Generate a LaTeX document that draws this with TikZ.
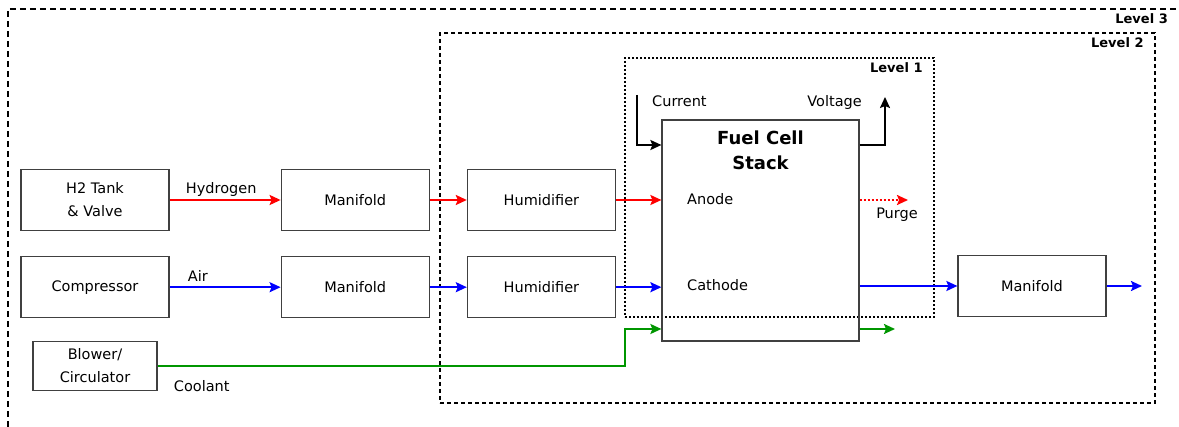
\documentclass[tikz,border=0pt]{standalone}
\usepackage{fontspec}
\setmainfont{DejaVu Sans}
\usepackage{xcolor}
\usepackage{tikz}
\usetikzlibrary{arrows.meta, positioning}

\definecolor{boxline}{RGB}{64,64,64}
\definecolor{coolgreen}{RGB}{0,150,0}

\begin{document}
\begin{tikzpicture}[
  x=1pt, y=-1pt,
  font=\fontsize{14.5}{23}\selectfont,
  node distance=25pt and 37pt,
  block/.style={rectangle, draw=boxline, line width=1.2pt, minimum width=148pt, minimum height=61pt, align=center, inner sep=0pt},
  line/.style={draw, -{Stealth[length=11pt, width=10pt, inset=2pt]}, line width=2pt},
  lvlabel/.style={font=\fontsize{13}{15}\selectfont\bfseries, anchor=north east, inner sep=0pt}
]
  \useasboundingbox (0,0) rectangle (1179,427);

  % level boxes
  \draw [line width=1.5pt, dash pattern=on 6pt off 4pt] (8,427) |- (1179,9);
  \node [lvlabel] (lvl3txt) at (1168,13) {Level 3};
  \node [rectangle, draw, line width=1.5pt, dash pattern=on 4pt off 3pt, minimum width=715pt, minimum height=370pt] (lvl2) at (797.5,218) {};
  \node [lvlabel] (lvl2txt) at ([xshift=-12pt, yshift=-5pt]lvl2.north east) {Level 2};
  \node [rectangle, draw, line width=1.5pt, dash pattern=on 2pt off 2pt, minimum width=309pt, minimum height=259pt] (lvl1) at (779.5,187.5) {};
  \node [lvlabel] (lvl1txt) at ([xshift=-12pt, yshift=-5pt]lvl1.north east) {Level 1};

  % blocks
  \node [block] (tank) at (95,200) {H2 Tank\\\& Valve};
  \node [block] (mani1) [right=111pt of tank] {Manifold};
  \node [block] (hum1) [right=of mani1] {Humidifier};
  \node [block] (comp) [below=of tank] {Compressor};
  \node [block] (mani2) [right=111pt of comp] {Manifold};
  \node [block] (hum2) [right=of mani2] {Humidifier};
  \node [block, minimum width=124pt, minimum height=49pt] (blower) at (95,366) {Blower/\\Circulator};
  \node [block, minimum width=197pt, minimum height=221pt] (stack) at (760.5,230.5) {};
  \node [font=\fontsize{18}{25}\selectfont\bfseries, align=center, anchor=north] (title) at ([yshift=-8pt]stack.north) {Fuel Cell\\Stack};
  \node [anchor=base west, inner sep=0pt] (anode) at (687,205) {Anode};
  \node [anchor=base west, inner sep=0pt] (cathode) at (687,291) {Cathode};
  \node [block] (mani3) at (1032,286) {Manifold};

  \coordinate (curtop) at (637,95);
  \coordinate (volttop) at (885,97);
  \coordinate (cool) at (625,366);
  \coordinate (purge) at (908,200);
  \coordinate (coolout) at (895,329);
  \coordinate (exhaust) at (1142,286);

  % hydrogen
  \draw [line, red] (tank) -- node[pos=0, anchor=south west, xshift=12pt, yshift=-1pt, text=black] {Hydrogen} (mani1);
  \draw [line, red] (mani1) -- (hum1);
  \draw [line, red] (hum1) -- (stack.west |- hum1);
  \draw [line, red, dash pattern=on 2pt off 2pt] (stack.east |- hum1) -- (purge)
    node[anchor=north, xshift=-11pt, yshift=-4pt, text=black] {Purge};

  % air
  \draw [line, blue] (comp) -- node[pos=0, anchor=south west, xshift=14pt, yshift=1pt, text=black] {Air} (mani2);
  \draw [line, blue] (mani2) -- (hum2);
  \draw [line, blue] (hum2) -- (stack.west |- hum2);
  \draw [line, blue] (stack.east |- mani3) -- (mani3);
  \draw [line, blue] (mani3) -- (exhaust);

  % coolant
  \draw [line, coolgreen] (blower.east) -- node[pos=0, anchor=north west, xshift=12pt, yshift=-10pt, text=black] {Coolant} (cool) |- (stack.west |- coolout);
  \draw [line, coolgreen] (stack.east |- coolout) -- (coolout);

  % electrical
  \draw [line] (curtop) |- (stack.west |- 0,145);
  \node [anchor=base west, inner sep=0pt] (current) at (652,107) {Current};
  \draw [line] (stack.east |- 0,145) -| (volttop);
  \node [anchor=base east, inner sep=0pt] (voltage) at (862,107) {Voltage};
\end{tikzpicture}
\end{document}
